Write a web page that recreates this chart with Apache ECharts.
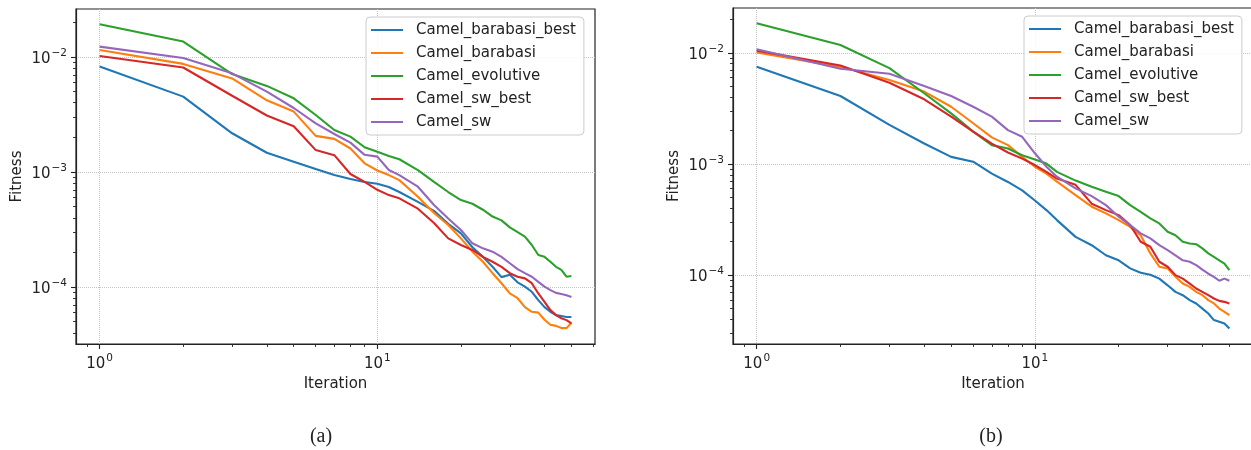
<!DOCTYPE html>
<html>
<head>
<meta charset="utf-8">
<title>Camel fitness</title>
<script src="https://cdn.jsdelivr.net/npm/echarts@6/dist/echarts.min.js"></script>
<style>
    html, body { margin: 0; padding: 0; background: #fff; }
    #chart { width: 1251px; height: 450px; }
</style>
</head>
<body>
<div id="chart"></div>
<script>
var names = ['Camel_barabasi_best', 'Camel_barabasi', 'Camel_evolutive', 'Camel_sw_best', 'Camel_sw'];
var colors = ['#1f77b4', '#ff7f0e', '#2ca02c', '#d62728', '#9467bd'];
var iterations = [1, 2, 3, 4, 5, 6, 7, 8, 9, 10, 11, 12, 14, 16, 18, 20, 22, 24, 26, 28, 30, 32, 34, 36, 38, 40, 42, 44, 46, 48, 50];
var xTicks = [1, 10];
var yTicks = [1e-4, 1e-3, 1e-2];

// panel (a)
var barabasiBestA = [0.00824, 0.00452, 0.00217, 0.00147, 0.00123, 0.00106, 0.00094, 0.00087, 0.00082, 0.00079, 0.00074, 0.00067, 0.00055, 0.00046, 0.000354, 0.000293, 0.000222, 0.000183, 0.00015, 0.000122, 0.000128, 0.00011, 0.000101, 0.000091, 0.000077, 0.000067, 0.000061, 0.000057, 0.000056, 0.000055, 0.000055];
var barabasiA = [0.0115, 0.0087, 0.0065, 0.0042, 0.00335, 0.00206, 0.00194, 0.0016, 0.00119, 0.00103, 0.00094, 0.00085, 0.00061, 0.00044, 0.000346, 0.000265, 0.000203, 0.000166, 0.000132, 0.000108, 0.000088, 0.00008, 0.000067, 0.000061, 0.00006, 0.000052, 0.000047, 0.000046, 0.000044, 0.000044, 0.000049];
var evolutiveA = [0.0192, 0.0136, 0.0071, 0.0056, 0.00437, 0.00313, 0.00232, 0.00203, 0.00164, 0.0015, 0.00138, 0.00129, 0.00104, 0.00082, 0.00067, 0.00057, 0.00053, 0.00047, 0.00041, 0.00038, 0.00033, 0.0003, 0.000274, 0.000232, 0.00019, 0.000183, 0.000166, 0.00015, 0.000141, 0.000123, 0.000125];
var swBestA = [0.0102, 0.0081, 0.0046, 0.0031, 0.0025, 0.00155, 0.0014, 0.00096, 0.00082, 0.0007, 0.00063, 0.00059, 0.00048, 0.00036, 0.000265, 0.000232, 0.00021, 0.000183, 0.000166, 0.00015, 0.000132, 0.000123, 0.000119, 0.000108, 0.000088, 0.0000745, 0.000063, 0.000057, 0.0000535, 0.0000516, 0.0000483];
var swA = [0.0123, 0.0098, 0.0072, 0.005, 0.0036, 0.00265, 0.00214, 0.0018, 0.00141, 0.00136, 0.00104, 0.00094, 0.000745, 0.000516, 0.000395, 0.000313, 0.00024, 0.000217, 0.000203, 0.000183, 0.000161, 0.000143, 0.000132, 0.000123, 0.000111, 0.000101, 0.000094, 0.000089, 0.000087, 0.000085, 0.000082];

// panel (b)
var barabasiBestB = [0.00753, 0.0041, 0.00225, 0.00153, 0.00116, 0.00105, 0.00082, 0.00069, 0.00058, 0.00047, 0.000385, 0.000313, 0.000221, 0.000186, 0.000151, 0.000136, 0.000115, 0.000105, 0.000101, 0.000093, 0.000081, 0.0000707, 0.000066, 0.0000596, 0.0000556, 0.00005, 0.0000452, 0.0000394, 0.000038, 0.0000367, 0.0000331];
var barabasiB = [0.0101, 0.0075, 0.0057, 0.00449, 0.00328, 0.00233, 0.00174, 0.00148, 0.00116, 0.000946, 0.00082, 0.000694, 0.000526, 0.000413, 0.00036, 0.000313, 0.000272, 0.000229, 0.000157, 0.000119, 0.000115, 0.0000966, 0.000084, 0.0000785, 0.0000707, 0.000066, 0.0000596, 0.0000556, 0.00005, 0.0000467, 0.0000436];
var evolutiveB = [0.0185, 0.0118, 0.0073, 0.00434, 0.00286, 0.00196, 0.00148, 0.00138, 0.0012, 0.0011, 0.00101, 0.00085, 0.00071, 0.000625, 0.000564, 0.000515, 0.000427, 0.000372, 0.000324, 0.000292, 0.000246, 0.000229, 0.0002, 0.000193, 0.00019, 0.000174, 0.000157, 0.000146, 0.000136, 0.000127, 0.000111];
var swBestB = [0.0105, 0.0077, 0.0054, 0.00383, 0.00267, 0.00196, 0.00153, 0.00127, 0.00112, 0.00098, 0.00085, 0.00074, 0.00065, 0.00044, 0.000385, 0.000347, 0.000282, 0.0002, 0.00018, 0.000132, 0.000119, 0.0001, 0.000093, 0.000084, 0.0000758, 0.0000707, 0.000066, 0.0000616, 0.0000587, 0.0000575, 0.0000556];
var swB = [0.0108, 0.0072, 0.0065, 0.00505, 0.0041, 0.00328, 0.00267, 0.00202, 0.00176, 0.00125, 0.000946, 0.000769, 0.000604, 0.000515, 0.000427, 0.000336, 0.000282, 0.000238, 0.000214, 0.000186, 0.000168, 0.000151, 0.000136, 0.000132, 0.000123, 0.000112, 0.000103, 0.0000966, 0.000089, 0.000093, 0.000089];

var FONT = '"DejaVu Sans", sans-serif';
var INK = '#222';

function pow10(v) {
    var e = Math.round(Math.log(v) / Math.LN10);
    return '{b|10}{e|' + (e < 0 ? '\u2212' + (-e) : e) + '}';
}
var rich = {
    b: { fontSize: 15, fontFamily: FONT, color: INK, verticalAlign: 'bottom' },
    e: { fontSize: 10.5, fontFamily: FONT, color: INK, verticalAlign: 'bottom', padding: [0, 0, 8, 1] }
};

// 2..9 times each power of ten, echarts drops those outside min/max
function minorTicks(lo, hi) {
    var out = [];
    for (var e = Math.floor(Math.log10(lo)); e <= Math.ceil(Math.log10(hi)); e++) {
        for (var k = 2; k <= 9; k++) out.push(Number((k * Math.pow(10, e)).toPrecision(10)));
    }
    return out;
}

function axes(dim, grid, min, max, majors, name) {
    var pos = dim === 'x' ? 'bottom' : 'left';
    var main = {
        type: 'log', gridIndex: grid, min: min, max: max, position: pos,
        name: name, nameLocation: 'middle',
        nameGap: dim === 'x' ? 31 : 51,
        nameTextStyle: { fontSize: 15, fontFamily: FONT, color: INK },
        axisLine: { show: true, lineStyle: { color: INK, width: 1.2 } },
        axisTick: { show: true, length: 5, customValues: majors, lineStyle: { color: INK, width: 1.1 } },
        axisLabel: { customValues: majors, formatter: pow10, rich: rich, margin: 9 },
        splitLine: { show: true, lineStyle: { color: '#c4c4c4', type: 'dotted', width: 1 } }
    };
    var minor = {
        type: 'log', gridIndex: grid, min: min, max: max, position: pos,
        axisLine: { show: false },
        axisTick: { show: true, length: 3, customValues: minorTicks(min, max), lineStyle: { color: INK, width: 0.9 } },
        axisLabel: { show: false },
        splitLine: { show: false }
    };
    return [main, minor];
}

function legend(left, top) {
    return {
        orient: 'vertical', left: left, top: top, data: names,
        icon: 'rect', itemWidth: 32, itemHeight: 2, itemGap: 5,
        padding: [4, 8, 4, 5],
        backgroundColor: 'rgba(255,255,255,0.85)',
        borderColor: '#cccccc', borderWidth: 1, borderRadius: 4,
        textStyle: { fontSize: 15, fontFamily: FONT, color: INK, lineHeight: 18, padding: [0, 0, 0, 8] }
    };
}

function lines(sets, axisIndex) {
    return sets.map(function (values, i) {
        return {
            type: 'line', name: names[i], xAxisIndex: axisIndex, yAxisIndex: axisIndex,
            data: iterations.map(function (it, j) { return [it, values[j]]; }),
            symbol: 'none', lineStyle: { width: 2.1, color: colors[i] }, itemStyle: { color: colors[i] }
        };
    });
}

var chart = echarts.init(document.getElementById('chart'), null, { renderer: 'canvas' });
chart.setOption({
    animation: false,
    backgroundColor: '#fff',
    color: colors,
    grid: [
        { left: 76, top: 9, width: 519, height: 335, show: true, borderColor: INK, borderWidth: 1.2, outerBoundsMode: 'none' },
        { left: 733, top: 8, width: 520, height: 336, show: true, borderColor: INK, borderWidth: 1.2, outerBoundsMode: 'none' }
    ],
    xAxis: axes('x', 0, 0.822, 60.8, xTicks, 'Iteration').concat(axes('x', 1, 0.822, 60.8, xTicks, 'Iteration')),
    yAxis: axes('y', 0, 3.2e-5, 0.0261, yTicks, 'Fitness').concat(axes('y', 1, 2.4e-5, 0.0254, yTicks, 'Fitness')),
    legend: [legend(366, 17), legend(1024, 16)],
    series: lines([barabasiBestA, barabasiA, evolutiveA, swBestA, swA], 0)
        .concat(lines([barabasiBestB, barabasiB, evolutiveB, swBestB, swB], 2)),
    graphic: [
        { type: 'text', x: 321, y: 437, style: { text: '(a)', font: '20px "Liberation Serif", serif', fill: INK, textAlign: 'center', textVerticalAlign: 'middle' } },
        { type: 'text', x: 991, y: 437, style: { text: '(b)', font: '20px "Liberation Serif", serif', fill: INK, textAlign: 'center', textVerticalAlign: 'middle' } }
    ]
});
</script>
</body>
</html>
